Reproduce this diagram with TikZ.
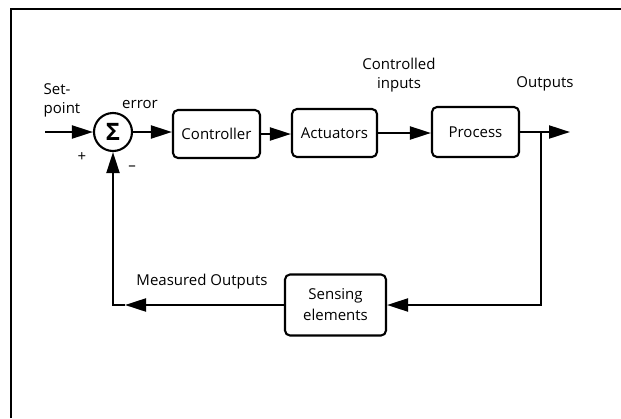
\documentclass[tikz,border=0pt]{standalone}
\usepackage{fontspec}
\setmainfont{Open Sans}
\usetikzlibrary{arrows.meta}
\begin{document}
\begin{tikzpicture}[x=1pt,y=-1pt,
  blk/.style={draw,line width=2.1pt,rounded corners=5pt,align=center,inner sep=0pt,font=\fontsize{15}{21}\selectfont},
  lbl/.style={align=center,inner sep=0pt,font=\fontsize{15}{19}\selectfont},
  conn/.style={line width=2.1pt,-{Triangle[length=21pt,width=13pt]}}]
\useasboundingbox (0,0) rectangle (621,418);
\draw[line width=1.2pt] (11,418) -- (11,9) -- (621,9);
% nodes
\node[draw,circle,line width=2.1pt,minimum size=38pt,inner sep=0pt,font=\fontsize{24}{24}\selectfont\bfseries] (sig) at (113,132) {Σ};
\node[blk,minimum width=87pt,minimum height=48pt] (ctrl) at (216.5,134) {Controller};
\node[blk,minimum width=85pt,minimum height=48pt] (act) at (334.5,133) {Actuators};
\node[blk,minimum width=87pt,minimum height=50pt] (proc) at (475.5,132) {Process};
\node[blk,minimum width=101pt,minimum height=61pt] (sens) at (335.5,305) {Sensing\\elements};
% labels
\node[lbl,align=left] (sp) at (62,100) {Set-\\point};
\node[lbl] (err) at (140,104) {error};
\node[lbl] (plus) at (82,157) {+};
\node[lbl] (minus) at (132,168) {\textendash};
\node[lbl] (ci) at (399,75) {Controlled\\inputs};
\node[lbl] (out) at (545,84) {Outputs};
\node[lbl] (mo) at (202,282) {Measured Outputs};
% coordinates
\coordinate (in) at (45,132);
\coordinate (outend) at (570,132);
\coordinate (br) at (541,132);
\coordinate (br2) at (541,305);
\coordinate (fbL) at (113,305);
\coordinate (fbA) at (125,305);
% connectors
\draw[conn] (in) -- (sig.west);
\draw[conn] (sig.east) -- (sig.east -| ctrl.west);
\draw[conn] (ctrl.east) -- (ctrl.east -| act.west);
\draw[conn] (act.east) -- (act.east -| proc.west);
\draw[conn] (proc.east) -- (outend);
\draw[conn] (br) -- (br2) -- (sens.east);
\draw[conn] (sens.west) -- (fbA);
\draw[conn] (fbA) -- (fbL) -- (sig.south);
\end{tikzpicture}
\end{document}
